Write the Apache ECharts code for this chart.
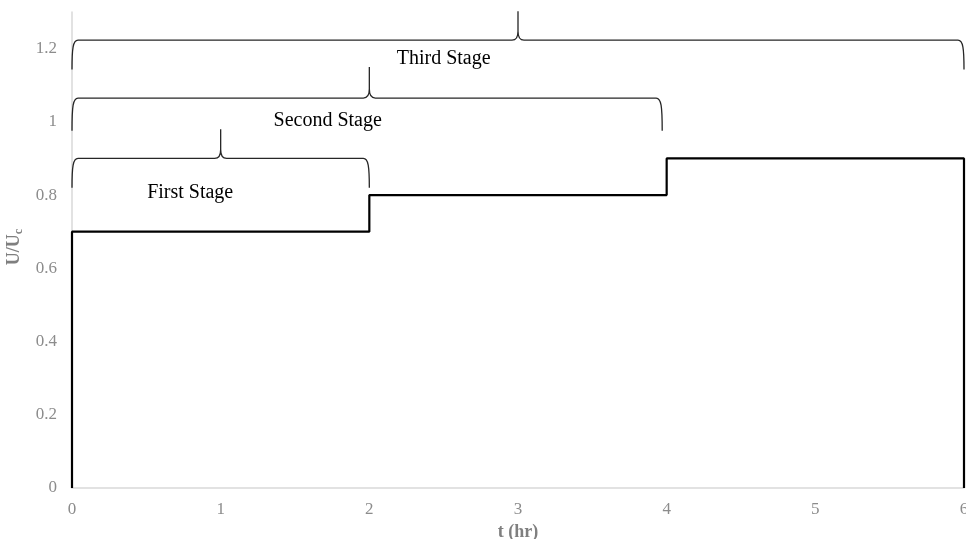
<!DOCTYPE html>
<html>
<head>
<meta charset="utf-8">
<title>U/Uc vs t</title>
<script src="https://cdn.jsdelivr.net/npm/echarts@6/dist/echarts.min.js"></script>
<style>
  html, body { margin: 0; padding: 0; background: #ffffff; }
  #chart { width: 966px; height: 539px; }
</style>
</head>
<body>
<div id="chart"></div>
<script>
// Load schedule: stage boundaries (hr) and the U/Uc level held in each stage
var stageTimes = [0, 2, 4, 6];
var stageLevels = [0.7, 0.8, 0.9];

// Axis ticks
var xTicks = [0, 1, 2, 3, 4, 5, 6];
var yTicks = [0, 0.2, 0.4, 0.6, 0.8, 1, 1.2];

// Curly braces marking the cumulative stages (data units)
var braceNames = ['First Stage', 'Second Stage', 'Third Stage'];
var braceStart = [0, 0, 0];
var braceEnd = [2, 3.97, 6];
var bracePeakX = [1, 2, 3];
var braceLineY = [0.9, 1.065, 1.223];
var braceTipY = [0.82, 0.976, 1.143];
var bracePeakY = [0.98, 1.15, 1.302];

// Stage label anchors (data units)
var labelX = [0.795, 1.72, 2.5];
var labelY = [0.805, 1.002, 1.173];

var SERIF = "'Liberation Serif', 'Times New Roman', serif";

// Build the step profile: start at zero, step up at each boundary, drop to zero at the end
var stepPoints = [[stageTimes[0], 0]];
for (var i = 0; i < stageLevels.length; i++) {
  stepPoints.push([stageTimes[i], stageLevels[i]]);
  stepPoints.push([stageTimes[i + 1], stageLevels[i]]);
}
stepPoints.push([stageTimes[stageTimes.length - 1], 0]);

var braceData = braceNames.map(function (n, i) {
  return [braceStart[i], braceEnd[i], bracePeakX[i], braceLineY[i], braceTipY[i], bracePeakY[i]];
});
var labelData = braceNames.map(function (n, i) {
  return [labelX[i], labelY[i], n];
});

function renderBrace(params, api) {
  var a = api.coord([api.value(0), api.value(3)]);
  var b = api.coord([api.value(1), api.value(3)]);
  var p = api.coord([api.value(2), api.value(5)]);
  var tipY = api.coord([api.value(0), api.value(4)])[1];
  var x0 = a[0], x1 = b[0], yh = a[1], xp = p[0], yp = p[1];
  var r = 6, k = 9;
  var d = [
    'M', x0, tipY,
    'C', x0, yh + 8, x0 + 1, yh, x0 + r, yh,
    'L', xp - r, yh,
    'C', xp - 2, yh, xp, yh - 3, xp, yh - k,
    'L', xp, yp,
    'M', xp, yh - k,
    'C', xp, yh - 3, xp + 2, yh, xp + r, yh,
    'L', x1 - r, yh,
    'C', x1 - 1, yh, x1, yh + 8, x1, tipY
  ].join(' ');
  return {
    type: 'path',
    shape: { pathData: d },
    style: { fill: 'none', stroke: '#262626', lineWidth: 1.3 }
  };
}

function renderLabel(params, api) {
  var c = api.coord([api.value(0), api.value(1)]);
  return {
    type: 'text',
    x: c[0],
    y: c[1],
    style: {
      text: labelData[params.dataIndex][2],
      fontFamily: SERIF,
      fontSize: 20,
      fill: '#000000',
      align: 'center',
      verticalAlign: 'middle'
    }
  };
}

var chart = echarts.init(document.getElementById('chart'), null, { renderer: 'canvas' });
chart.setOption({
  animation: false,
  backgroundColor: '#ffffff',
  grid: { left: 72, right: 2, top: 12, bottom: 51, containLabel: false, outerBoundsMode: 'none' },
  xAxis: {
    type: 'value',
    min: xTicks[0],
    max: xTicks[xTicks.length - 1],
    interval: 1,
    name: 't (hr)',
    nameLocation: 'middle',
    nameGap: 31,
    nameTextStyle: { fontFamily: SERIF, fontSize: 18, fontWeight: 'bold', color: '#7f7f7f' },
    axisLine: { show: true, lineStyle: { color: '#d9d9d9', width: 1.5 } },
    axisTick: { show: false },
    splitLine: { show: false },
    axisLabel: { fontFamily: SERIF, fontSize: 17, color: '#8c8c8c', margin: 13 }
  },
  yAxis: {
    type: 'value',
    min: yTicks[0],
    max: 1.3,
    interval: 0.2,
    name: '{m|U/U}{s|c}',
    nameLocation: 'middle',
    nameGap: 38,
    nameRotate: 90,
    nameTextStyle: {
      padding: [0, 0, 0, 6],
      rich: {
        m: { fontFamily: SERIF, fontSize: 18, fontWeight: 'bold', color: '#7f7f7f', lineHeight: 22 },
        s: { fontFamily: SERIF, fontSize: 12, fontWeight: 'bold', color: '#7f7f7f', verticalAlign: 'bottom', lineHeight: 22, padding: [8, 0, 0, 0] }
      }
    },
    axisLine: { show: true, lineStyle: { color: '#d9d9d9', width: 1.5 } },
    axisTick: { show: false },
    splitLine: { show: false },
    axisLabel: {
      fontFamily: SERIF, fontSize: 17, color: '#8c8c8c', margin: 15,
      showMaxLabel: false,
      formatter: function (v) {
        var t = Math.round(v * 10) / 10;
        return yTicks.indexOf(t) >= 0 ? String(t) : '';
      }
    }
  },
  series: [
    {
      type: 'line',
      data: stepPoints,
      showSymbol: false,
      lineStyle: { color: '#000000', width: 2.2 },
      z: 3
    },
    {
      type: 'custom',
      renderItem: renderBrace,
      data: braceData,
      clip: false,
      z: 4
    },
    {
      type: 'custom',
      renderItem: renderLabel,
      data: labelData,
      clip: false,
      z: 5
    }
  ]
});
</script>
</body>
</html>
